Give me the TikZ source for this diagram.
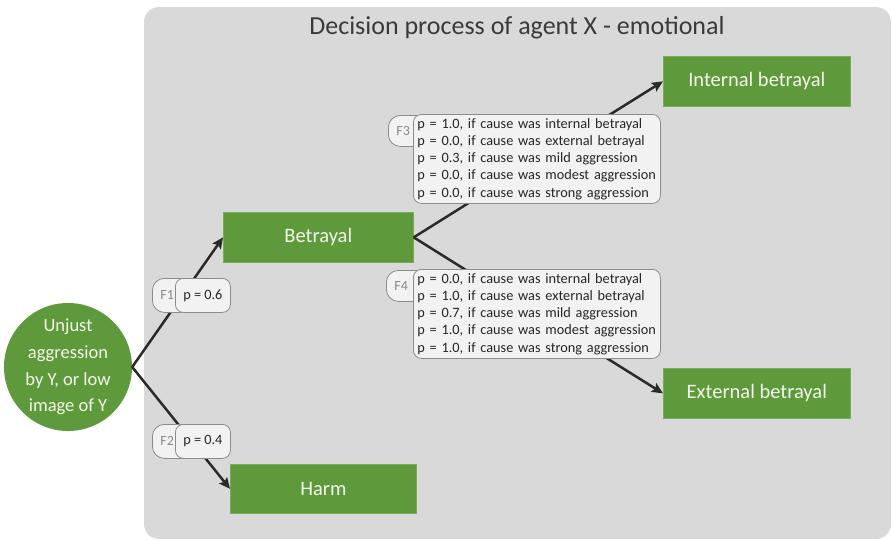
\documentclass[tikz,border=0pt]{standalone}
\usepackage{fontspec}
\setmainfont{Carlito}
\usetikzlibrary{arrows.meta}
\hyphenpenalty=10000
\exhyphenpenalty=10000

\definecolor{leaf}{HTML}{5E9A3C}
\definecolor{leafedge}{HTML}{79AE58}
\definecolor{leaftext}{HTML}{F4F6EC}
\definecolor{panelgray}{HTML}{D9D9D9}
\definecolor{ink}{HTML}{262626}
\definecolor{wire}{HTML}{2A2A2A}
\definecolor{tagline}{HTML}{8C8C8C}
\definecolor{tagfill}{HTML}{F2F2F2}
\definecolor{tagtext}{HTML}{8A8A8A}
\definecolor{titletext}{HTML}{3A3A3A}

\begin{document}
\begin{tikzpicture}[x=1pt,y=-1pt,
  outcome/.style={fill=leaf, draw=leafedge, line width=0.7pt, text=leaftext,
    font=\fontsize{20.5}{24}\selectfont, inner sep=0pt, anchor=north west},
  source/.style={circle, fill=leaf, text=leaftext, minimum size=128pt, inner sep=0pt,
    align=center, font=\fontsize{18.5}{26.7}\selectfont},
  flow/.style={draw=wire, line width=2.5pt,
    -{Stealth[length=11pt,width=10pt,inset=2pt]}},
  fnode/.style={draw=tagline, fill=tagfill, line width=0.8pt, rounded corners=12pt,
    text=tagtext, font=\fontsize{14}{16}\selectfont, align=left,
    inner xsep=8pt, inner ysep=0pt, text width=25pt, anchor=north west},
  probbox/.style={draw=tagline, fill=tagfill, line width=0.8pt, rounded corners=8pt,
    text=ink, font=\fontsize{14.3}{17.3}\selectfont,
    inner xsep=5pt, inner ysep=0pt, anchor=north west},
  problist/.style={probbox, align=left, inner xsep=4pt, text width=239pt, minimum height=89pt}
]
\useasboundingbox (0,0) rectangle (892,539);

% enclosing panel and its title
\fill[panelgray, rounded corners=15pt] (144,7) rectangle (891,539);
\node[text=titletext, font=\fontsize{26}{30}\selectfont] (title) at (517,28)
  {Decision process of agent X - emotional};

% situation and outcomes
\node[source] (src) at (68,367) {Unjust\\aggression\\by Y, or low\\image of Y};
\node[outcome, minimum width=190pt, minimum height=50pt] (bet)  at (223,212) {Betrayal};
\node[outcome, minimum width=186pt, minimum height=49pt] (harm) at (230,464) {Harm};
\node[outcome, minimum width=187pt, minimum height=50pt] (intb) at (663,56) {Internal betrayal};
\node[outcome, minimum width=187pt, minimum height=50pt] (extb) at (663,368) {External betrayal};

% transitions
\draw[flow] (src.east) -- (bet.west);
\draw[flow] (src.east) -- (harm.west);
\draw[flow] (bet.east) -- (intb.west);
\draw[flow] (bet.east) -- (extb.west);

% probability labels on the transitions
\node[fnode, minimum height=34pt] (f1tag) at (152,278) {F1};
\node[probbox, minimum width=55pt, minimum height=34pt] (f1) at (175,278) {p = 0.6};

\node[fnode, minimum height=34pt] (f2tag) at (152,424) {F2};
\node[probbox, minimum width=55pt, minimum height=34pt] (f2) at (175,424) {p = 0.4};

\node[fnode, minimum height=31pt] (f3tag) at (388,115) {F3};
\node[problist] (f3) at (413,114) {p = 1.0, if cause was internal betrayal\\
  p = 0.0, if cause was external betrayal\\
  p = 0.3, if cause was mild aggression\\
  p = 0.0, if cause was modest aggression\\
  p = 0.0, if cause was strong aggression};

\node[fnode, minimum height=31pt] (f4tag) at (386,270) {F4};
\node[problist] (f4) at (413,269) {p = 0.0, if cause was internal betrayal\\
  p = 1.0, if cause was external betrayal\\
  p = 0.7, if cause was mild aggression\\
  p = 1.0, if cause was modest aggression\\
  p = 1.0, if cause was strong aggression};
\end{tikzpicture}
\end{document}
